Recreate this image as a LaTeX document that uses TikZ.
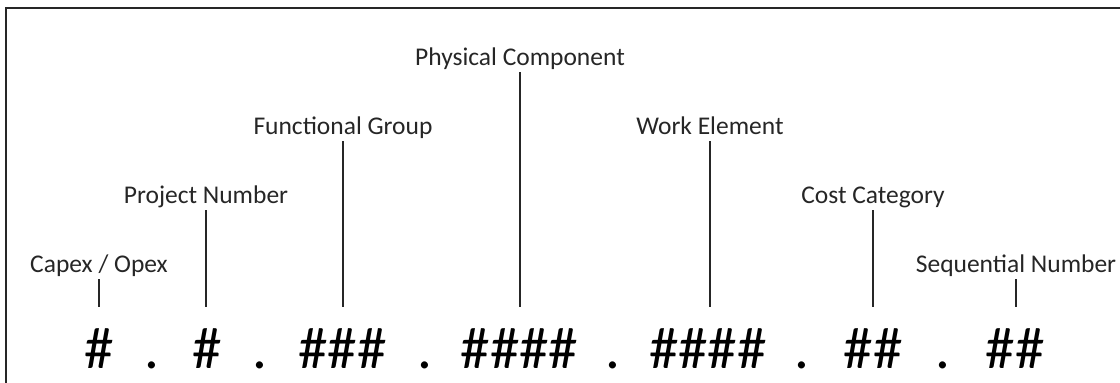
\documentclass[tikz,border=0pt]{standalone}
\usepackage{fontspec}
\setmainfont{Carlito}
\begin{document}
\begin{tikzpicture}[x=1pt,y=-1pt,
  field/.style={font=\fontsize{25.5}{30}\selectfont, anchor=base, inner sep=0pt, text=black!85},
  code/.style={font=\fontsize{59}{70}\selectfont, anchor=base, inner sep=0pt},
  tick/.style={line width=1.2pt, black!85},
  frame/.style={line width=2.2pt, black!85}]
\useasboundingbox (0,0) rectangle (1120,383);
% outer frame (open at the right and bottom)
\draw[frame] (6,383) -- (6,8) -- (1120,8);

% code pattern
\coordinate (row) at (0,307);
\node[code] (g1) at (99,368)    {\#};
\node[code] (d1) at (152,368)   {.};
\node[code] (g2) at (207,368)   {\#};
\node[code] (d2) at (260,368)   {.};
\node[code] (g3) at (342.5,368) {\#\#\#};
\node[code] (d3) at (425,368)   {.};
\node[code] (g4) at (519.5,368) {\#\#\#\#};
\node[code] (d4) at (613,368)   {.};
\node[code] (g5) at (708,368)   {\#\#\#\#};
\node[code] (d5) at (802,368)   {.};
\node[code] (g6) at (873,368)   {\#\#};
\node[code] (d6) at (943,368)   {.};
\node[code] (g7) at (1015,368)  {\#\#};

% field names
\node[field] (l1) at (99,272)   {Capex / Opex};
\node[field] (l2) at (206,203)  {Project Number};
\node[field] (l3) at (343,134)  {Functional Group};
\node[field] (l4) at (520,65)   {Physical Component};
\node[field] (l5) at (710,134)  {Work Element};
\node[field] (l6) at (873,203)  {Cost Category};
\node[field] (l7) at (1016,272) {Sequential Number};

% leader lines
\foreach \l in {l1,l2,l3,l4,l5,l6,l7}
  \draw[tick] ([yshift=-7pt]\l.base) -- (\l.base |- row);
\end{tikzpicture}
\end{document}
